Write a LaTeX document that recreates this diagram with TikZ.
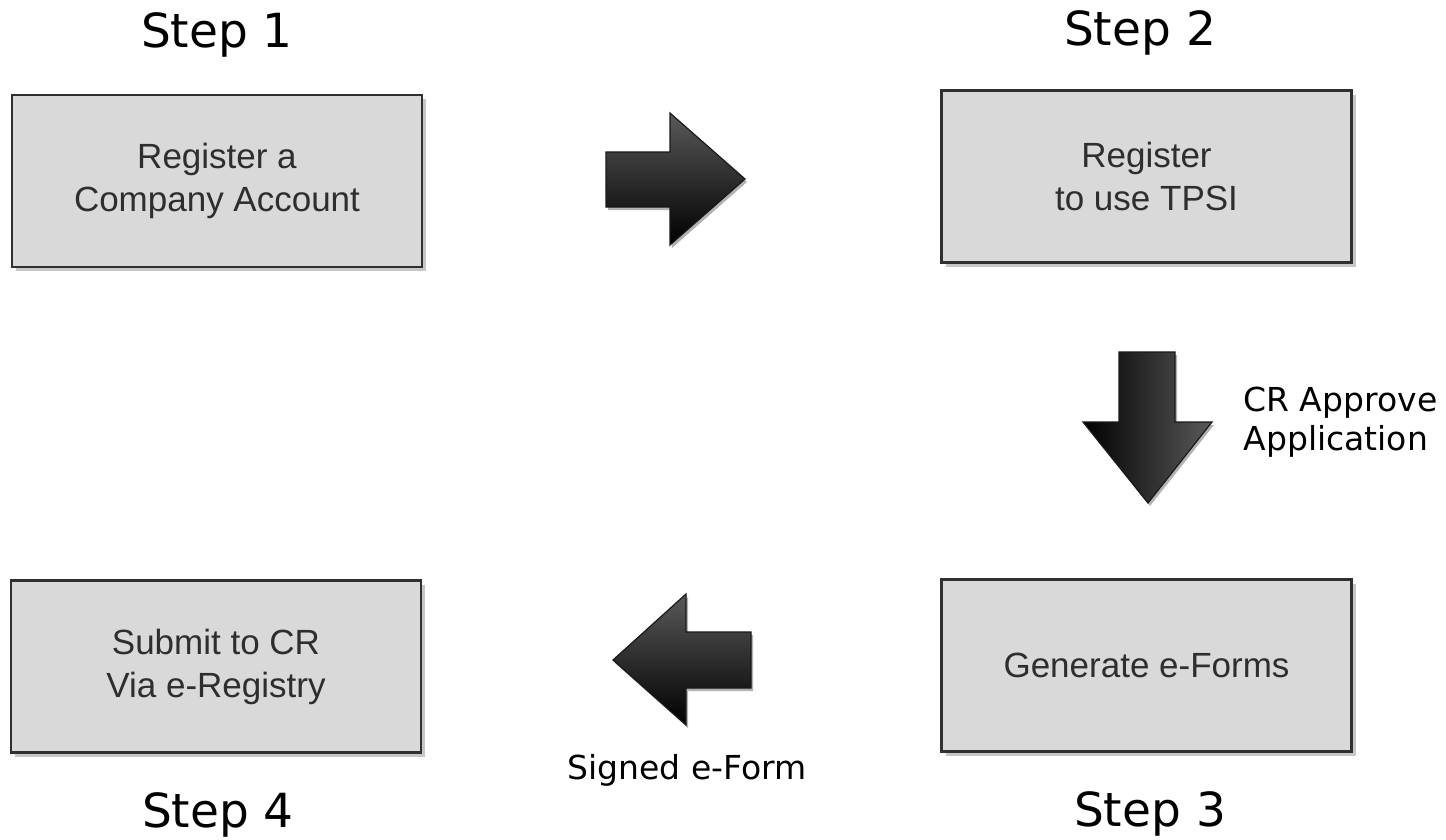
\documentclass[tikz,border=0pt]{standalone}
\usepackage{fontspec}
\setmainfont{Liberation Sans}
\newfontfamily\stepfont{DejaVu Sans}
\usetikzlibrary{positioning,shadows}

\definecolor{boxfill}{HTML}{D9D9D9}
\definecolor{boxline}{HTML}{303030}
\definecolor{boxtext}{HTML}{2E2E2E}

\begin{document}
\begin{tikzpicture}[x=1pt,y=-1pt,
    stepbox/.style={draw=boxline,line width=2.5pt,fill=boxfill,minimum width=410pt,minimum height=172pt,
        align=center,text=boxtext,font=\fontsize{35}{43}\selectfont,
        drop shadow={shadow xshift=4pt,shadow yshift=-4pt,fill=gray!45,opacity=1}},
    steplabel/.style={font=\stepfont\fontsize{47}{56}\selectfont},
    note/.style={font=\stepfont\fontsize{33}{39}\selectfont,align=left},
    blockarrow/.style={draw=black!90,line width=1.2pt,line join=miter,
        drop shadow={shadow xshift=2pt,shadow yshift=-3pt,fill=gray!60,opacity=1}}]
    \useasboundingbox (0,0) rectangle (1446,839);

    % boxes
    \node[stepbox] (register) at (217,181) {Register a\\Company Account};
    \node[stepbox] (tpsi) at (1146.5,176.5) {Register\\to use TPSI};
    \node[stepbox] (eforms) at (1146.5,665.5) {Generate e-Forms};
    \node[stepbox] (submit) at (216,666.5) {Submit to CR\\Via e-Registry};

    % step labels
    \node[steplabel] (step1) at (217,35) {Step 1};
    \node[steplabel] (step2) at (1140,33) {Step 2};
    \node[steplabel] (step3) at (1150,814) {Step 3};
    \node[steplabel] (step4) at (218,815) {Step 4};

    % block arrows
    \path[blockarrow,top color=black!65,bottom color=black] (606,152) -- (670,152) -- (670,113) -- (745,179)
        -- (670,245) -- (670,207) -- (606,207) -- cycle;
    \path[blockarrow,left color=black,right color=black!65] (1119,352) -- (1175,352) -- (1175,422) -- (1212,422)
        -- (1148,503) -- (1083,422) -- (1119,422) -- cycle;
    \path[blockarrow,top color=black!65,bottom color=black] (751,632) -- (686,632) -- (686,594) -- (613,660)
        -- (686,725) -- (686,688) -- (751,688) -- cycle;

    \node[note,anchor=west] (approve) at (1240,422) {CR Approve\\Application};
    \node[note] (signed) at (687,770) {Signed e-Form};
\end{tikzpicture}
\end{document}
